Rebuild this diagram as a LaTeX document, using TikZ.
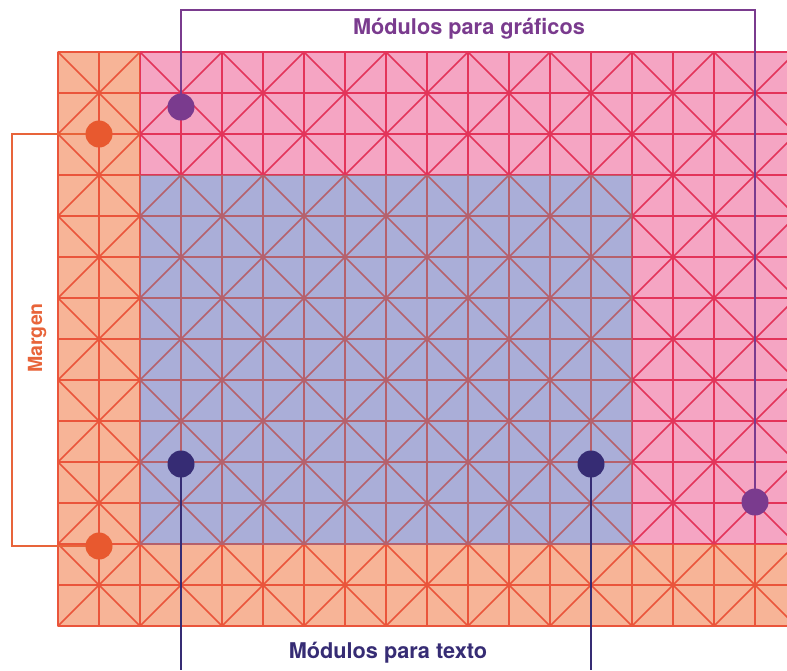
\documentclass[tikz,border=0pt]{standalone}
\usepackage{fontspec}
\setmainfont{TeX Gyre Heros}
\usetikzlibrary{positioning}
\definecolor{marginfill}{HTML}{F7B497}
\definecolor{marginline}{HTML}{EA553B}
\definecolor{marginspot}{HTML}{E8592F}
\definecolor{marginlabel}{HTML}{E8643A}
\definecolor{graphfill}{HTML}{F5A5C3}
\definecolor{graphline}{HTML}{E3345A}
\definecolor{graphspot}{HTML}{7A3B8E}
\definecolor{textfill}{HTML}{AAAED8}
\definecolor{textline}{HTML}{B5616C}
\definecolor{textspot}{HTML}{362C74}

% grid of 41pt modules with the diagonals of every 2x2 block
\newcommand{\modulegrid}{%
  \begin{scope}[shift={(58,52)}, x=41pt, y=-41pt]
    \foreach \i in {0,...,18} \draw (\i,0) -- (\i,14);
    \foreach \j in {0,...,14} \draw (0,\j) -- (19,\j);
    \foreach \m in {-14,-12,...,18} \draw (\m,0) -- (\m+14,14);
    \foreach \m in {0,2,...,32} \draw (\m,0) -- (\m-14,14);
  \end{scope}}

\begin{document}
\begin{tikzpicture}[
    x=1pt, y=-1pt,
    cell/.style={line width=1.7pt},
    spot/.style={circle, minimum size=27pt, inner sep=0pt},
    bracket/.style={line width=1.4pt},
    caption/.style={font=\fontsize{21.7}{22}\selectfont\bfseries, inner sep=0pt}
]
    \useasboundingbox (0,0) rectangle (787,670);

    % Regions
    \fill[marginfill] (58,52) -- (140,52) -- (140,544) -- (787,544)
        -- (787,626) -- (58,626) -- cycle;
    \fill[graphfill] (140,52) rectangle (787,544);
    \fill[textfill] (140,175) rectangle (632,544);

    % Grid, tinted by region
    \begin{scope}[cell, marginline]
        \clip (57,51) -- (140,51) -- (140,544) -- (787,544)
            -- (787,627) -- (57,627) -- cycle;
        \modulegrid
    \end{scope}
    \begin{scope}[cell, graphline]
        \clip (140,51) -- (787,51) -- (787,544) -- (632,544)
            -- (632,175) -- (140,175) -- cycle;
        \modulegrid
    \end{scope}
    \begin{scope}[cell, textline]
        \clip (140,175) rectangle (632,544);
        \modulegrid
    \end{scope}

    % Bracket ends
    \coordinate (graphbar) at (468,10);
    \coordinate (marginbar) at (12,340);
    \coordinate (textbar) at (388,670);

    % Markers
    \node[spot] (marginA) at (99,134) {};
    \node[spot] (marginB) at (99,546) {};
    \node[spot] (graphA) at (181,107) {};
    \node[spot] (graphB) at (755,502) {};
    \node[spot] (textA) at (181,464) {};
    \node[spot] (textB) at (591,464) {};

    % Brackets
    \draw[bracket, graphspot] (graphA.center) |- (graphbar) -| (graphB.center);
    \draw[bracket, marginlabel] (marginA.center) -| (marginbar) |- (marginB.center);
    \draw[bracket, textspot] (textA.center) -- (textA |- textbar);
    \draw[bracket, textspot] (textB.center) -- (textB |- textbar);

    % Marker discs over the brackets
    \foreach \p/\c in {marginA/marginspot, marginB/marginspot, graphA/graphspot,
                       graphB/graphspot, textA/textspot, textB/textspot}
        \fill[\c] (\p) circle (13.5);

    % Labels
    \node[caption, text=graphspot, anchor=base] (graphlabel) at (469,34)
        {Módulos para gráficos};
    \node[caption, text=textspot, anchor=base] (textlabel) at (388,658)
        {Módulos para texto};
    \node[caption, text=marginlabel, anchor=base, rotate=90,
          font=\fontsize{19.5}{20}\selectfont\bfseries] (marginlabel) at (42,338)
        {Margen};
\end{tikzpicture}
\end{document}
